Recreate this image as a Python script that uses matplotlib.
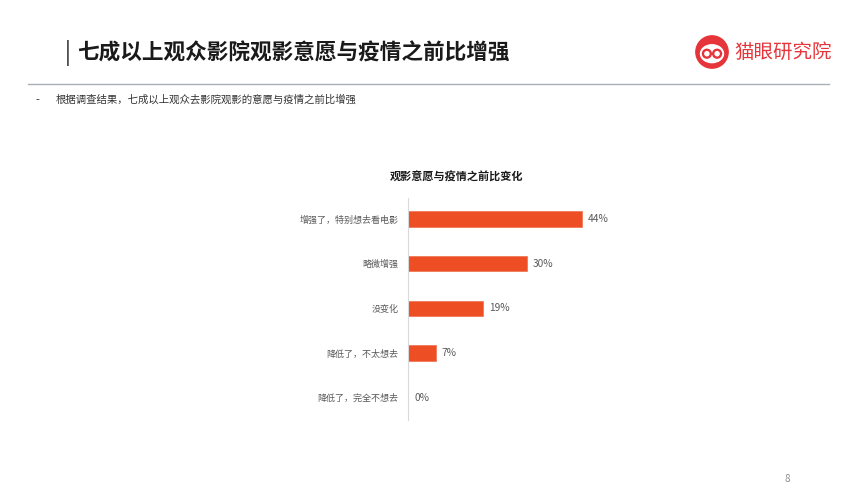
import matplotlib
matplotlib.use("Agg")
import matplotlib.pyplot as plt
from matplotlib.patches import Circle, Ellipse

plt.rcParams['font.family'] = ['Noto Sans CJK SC', 'DejaVu Sans']

categories = ["增强了，特别想去看电影", "略微增强", "没变化", "降低了，不太想去", "降低了，完全不想去"]
values = [44, 30, 19, 7, 0]
value_labels = ["44%", "30%", "19%", "7%", "0%"]

page_title = "七成以上观众影院观影意愿与疫情之前比增强"
subtitle = "根据调查结果，七成以上观众去影院观影的意愿与疫情之前比增强"
chart_title = "观影意愿与疫情之前比变化"
brand = "猫眼研究院"

W, H = 860, 484
fig = plt.figure(figsize=(W / 100, H / 100), dpi=100)
fig.patch.set_facecolor("white")

def fx(x):
    return x / W

def fy(y):
    return 1 - y / H

# Header
fig.text(fx(65), fy(53), "|", fontsize=16, color="#1a1a1a", va="center", ha="left")
fig.text(fx(77), fy(53), page_title, fontsize=15.6, fontweight="bold", color="#1a1a1a", va="center", ha="left")

# Header rule
fig.add_artist(plt.Line2D([fx(28), fx(829)], [fy(84), fy(84)], color="#A7B0B9", lw=1.0))

# Bullet and subtitle
fig.text(fx(35), fy(100), "-", fontsize=8, color="#333333", va="center", ha="left")
fig.text(fx(56), fy(100), subtitle, fontsize=7.5, color="#333333", va="center", ha="left")

# Logo
logo_ax = fig.add_axes([fx(695), fy(69), fx(34), 34 / H])
logo_ax.set_xlim(-1, 1)
logo_ax.set_ylim(-1, 1)
logo_ax.set_aspect("equal")
logo_ax.axis("off")
red = "#E5343A"
logo_ax.add_patch(Circle((0, 0), 0.95, color=red))
logo_ax.add_patch(Ellipse((0, -0.1), 1.35, 1.05, color="white"))
logo_ax.add_patch(Circle((-0.3, -0.1), 0.26, color=red))
logo_ax.add_patch(Circle((0.3, -0.1), 0.26, color=red))
logo_ax.add_patch(Circle((-0.3, -0.1), 0.12, color="white"))
logo_ax.add_patch(Circle((0.3, -0.1), 0.12, color="white"))
fig.text(fx(734), fy(52), brand, fontsize=14, color=red, va="center", ha="left")

# Chart
ax = fig.add_axes([fx(408), fy(420), fx(645) - fx(408), 222 / H])
y = list(range(len(categories)))
ax.barh(y, values, height=0.34, color="#EE4E23", edgecolor="#F0704F", linewidth=0.5)
ax.set_ylim(4.5, -0.47)
ax.set_xlim(0, 60)
ax.set_yticks(y)
ax.set_yticklabels(categories, fontsize=6.5, color="#595959")
ax.tick_params(axis="y", length=0, pad=7)
ax.set_xticks([])
for s in ["top", "right", "bottom"]:
    ax.spines[s].set_visible(False)
ax.spines["left"].set_color("#D9D9D9")
ax.spines["left"].set_linewidth(0.8)
for yi, v, lab in zip(y, values, value_labels):
    ax.annotate(lab, (v, yi), xytext=(4.5, 0), textcoords="offset points",
                va="center", ha="left", fontsize=7.3, color="#595959")

fig.text(fx(457), fy(177), chart_title, fontsize=8, fontweight="bold", color="#1a1a1a", va="center", ha="center")

# Page number
fig.text(fx(787), fy(479), "8", fontsize=7, color="#8c8c8c", va="center", ha="center")

fig.savefig("out.png", dpi=100)
